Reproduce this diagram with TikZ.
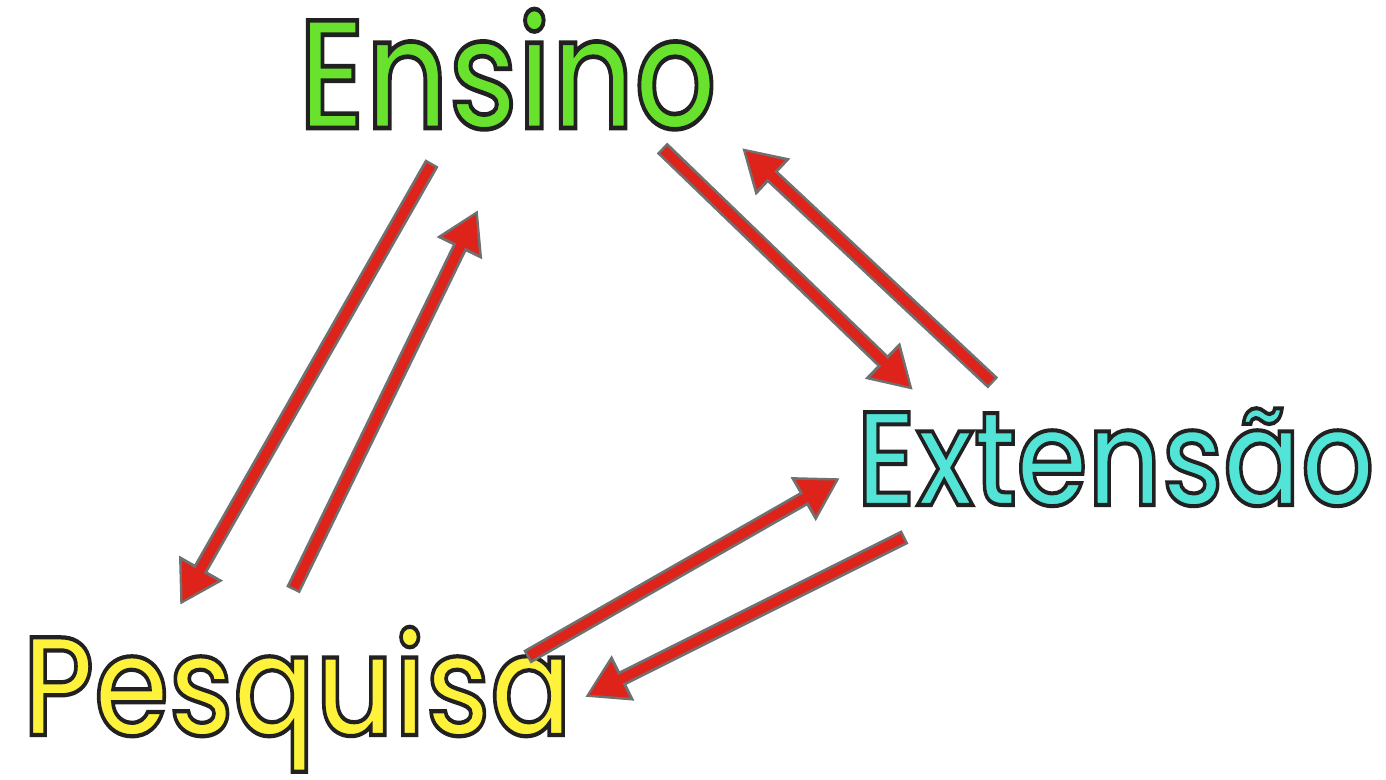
\documentclass[tikz,border=0pt]{standalone}
\usepackage{fontspec}
\setmainfont{Poppins}
\newfontfamily\rimfont{Poppins}[UprightFont=*-Medium, FakeBold=3]
\usetikzlibrary{arrows.meta}
\definecolor{ensgreen}{RGB}{104,226,44}
\definecolor{extcyan}{RGB}{82,228,214}
\definecolor{pesyellow}{RGB}{255,242,58}
\definecolor{arrowred}{RGB}{222,36,26}
\definecolor{rimgray}{RGB}{112,112,112}

\tikzset{
  word/.style={anchor=base west, inner sep=0pt},
  rim/.style={rimgray, line width=0.3cm, -{Triangle[length=0.85cm,width=0.95cm]}},
  core/.style={arrowred, line width=0.19cm, shorten >=0.09cm, shorten <=0.05cm,
    -{Triangle[length=0.7cm,width=0.76cm]}},
}

\begin{document}
\begin{tikzpicture}[x=0.02cm, y=-0.02cm]
    \useasboundingbox (0,0) rectangle (1386,780);

    % the three words, dark rim via stroked glyphs
    \node[word, xscale=0.83] (ensino) at (298,128)
        {\rimfont\fontsize{88}{100}\selectfont\color{ensgreen}\special{pdf:code 0.13 0.13 0.13 RG}Ensino};
    \node[word, xscale=0.86] (extensao) at (856,505)
        {\rimfont\fontsize{76}{90}\selectfont\color{extcyan}\special{pdf:code 0.13 0.13 0.13 RG}Extensão};
    \node[word, xscale=0.86] (pesquisa) at (22,735)
        {\rimfont\fontsize{80}{92}\selectfont\color{pesyellow}\special{pdf:code 0.13 0.13 0.13 RG}Pesquisa};

    % arrow ends
    \coordinate (ens-pes-a) at (432,163);
    \coordinate (ens-pes-b) at (180,605);
    \coordinate (pes-ens-a) at (293,590);
    \coordinate (pes-ens-b) at (478,210);
    \coordinate (ens-ext-a) at (662,148);
    \coordinate (ens-ext-b) at (913,390);
    \coordinate (ext-ens-a) at (993,383);
    \coordinate (ext-ens-b) at (742,148);
    \coordinate (pes-ext-a) at (527,657);
    \coordinate (pes-ext-b) at (840,478);
    \coordinate (ext-pes-a) at (905,537);
    \coordinate (ext-pes-b) at (585,697);

    % arrows
    \foreach \s in {ens-pes, pes-ens, ens-ext, ext-ens, pes-ext, ext-pes} {
        \draw[rim] (\s-a) -- (\s-b);
        \draw[core] (\s-a) -- (\s-b);
    }
\end{tikzpicture}
\end{document}
